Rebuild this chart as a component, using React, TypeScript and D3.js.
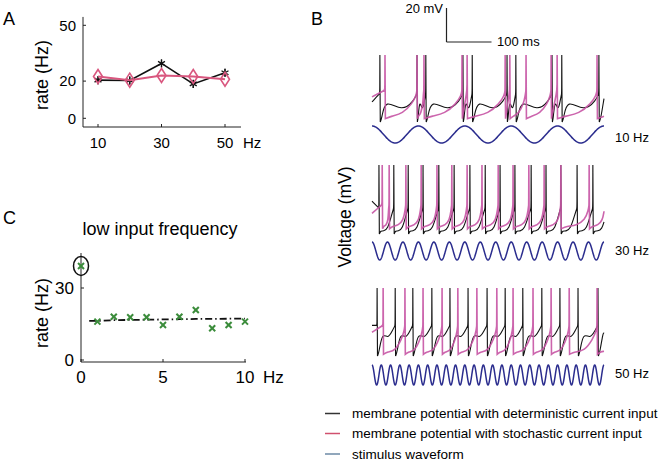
import React from 'react';
import * as d3 from 'd3';

const FONT = "'Liberation Sans', Arial, Helvetica, sans-serif";

// ---------- Panel A data ----------
const aFreq = [10, 20, 30, 40, 50];
const aDeterministic = [20.5, 20.3, 29.5, 18.5, 24.5];
const aStochastic = [22.5, 20.5, 23, 22.5, 21];
const aYTicks = [0, 20, 50];
const aXTicks = [10, 30, 50];

// ---------- Panel C data ----------
const cFreq = [0, 1, 2, 3, 4, 5, 6, 7, 8, 9, 10];
const cStochastic = [39.2, 16, 18, 17.8, 17.8, 14.6, 18, 20.8, 13.2, 14.6, 16];
const cDetFreq = [0.5, 1, 2, 3, 4, 5, 6, 7, 8, 9, 10];
const cDeterministic = [16.3, 16.3, 16.6, 16.7, 16.8, 16.9, 17, 17.1, 17.1, 17.2, 17.2];
const cYTicks = [0, 30];
const cXTicks = [0, 5, 10];

// ---------- Panel B data (spike times in ms, 500 ms window) ----------
const bStimFreqs = [10, 30, 50];
const bDetSpikes10 = [17, 97, 116, 196, 216, 291, 310, 388, 409, 489];
const bStoSpikes10 = [28, 97, 112, 194, 205, 287, 297, 332, 386, 399, 485];
const bDetSpikes30 = [15, 47, 78, 110, 144, 177, 211, 244, 276, 308, 343, 375, 407, 442, 476];
const bStoSpikes30 = [22, 37, 73, 106, 140, 172, 205, 237, 272, 304, 338, 371, 407, 468];
const bDetSpikes50 = [11, 50, 88, 129, 168, 207, 248, 287, 325, 366, 405, 444, 487];
const bStoSpikes50 = [24, 71, 110, 151, 185, 226, 269, 304, 347, 386, 425, 485];
const bLegend = [
  'membrane potential with deterministic current input',
  'membrane potential with stochastic current input',
  'stimulus waveform',
];

type P = { v0: number; reset: number; bump: number; dip: number; pre: number; thr: number; typ: number };
const PEAK = -35;

const panels = [
  {
    freq: bStimFreqs[0], top: 55, bottom: 122, sineC: 134.5, sineA: 8.5, labelY: 137,
    det: bDetSpikes10, sto: bStoSpikes10,
    dp: { v0: -63, reset: -75, bump: -61, dip: -69, pre: -62, thr: -58, typ: 80 },
    sp: { v0: -60, reset: -73, bump: -70, dip: -64, pre: -59, thr: -56, typ: 80 },
  },
  {
    freq: bStimFreqs[1], top: 165, bottom: 234, sineC: 251, sineA: 9, labelY: 250,
    det: bDetSpikes30, sto: bStoSpikes30,
    dp: { v0: -56, reset: -75, bump: -73.5, dip: -72, pre: -64, thr: -60, typ: 33 },
    sp: { v0: -63, reset: -72, bump: -70, dip: -67, pre: -61, thr: -58, typ: 34 },
  },
  {
    freq: bStimFreqs[2], top: 288, bottom: 356, sineC: 375, sineA: 10, labelY: 373,
    det: bDetSpikes50, sto: bStoSpikes50,
    dp: { v0: -57, reset: -75, bump: -61, dip: -65, pre: -60, thr: -57, typ: 39 },
    sp: { v0: -61, reset: -74, bump: -72, dip: -65, pre: -60, thr: -57, typ: 40 },
  },
];

function rep(pts: [number, number][], p: [number, number], n: number) {
  for (let i = 0; i < n; i++) pts.push([p[0], p[1]]);
}

function buildTrace(spikes: number[], p: P, kind: 'det' | 'sto'): [number, number][] {
  const pts: [number, number][] = [];
  rep(pts, [0, p.v0], 3);
  const all = [...spikes, spikes[spikes.length - 1] + p.typ];
  let prev: number | null = null;
  for (let i = 0; i < all.length; i++) {
    const n = all[i];
    if (prev !== null) {
      const D = n - prev;
      rep(pts, [prev + 0.8, p.reset], 3);
      if (D > 14) {
        if (kind === 'det') {
          pts.push([prev + Math.min(4, 0.12 * D), p.reset + 2]);
          pts.push([prev + Math.min(11, 0.3 * D), p.bump]);
          pts.push([prev + 0.6 * D, p.dip]);
          pts.push([n - Math.min(6, 0.15 * D), p.pre]);
        } else {
          pts.push([prev + 0.2 * D, p.reset + 1.5]);
          pts.push([prev + 0.55 * D, p.bump]);
          pts.push([prev + 0.85 * D, p.dip]);
          pts.push([n - 1.5, p.pre]);
        }
      }
    }
    rep(pts, [n - 0.3, p.thr], 2);
    rep(pts, [n, PEAK], 3);
    prev = n;
  }
  const out: [number, number][] = [];
  for (let i = 0; i < pts.length; i++) {
    const [t, v] = pts[i];
    if (t <= 500) out.push([t, v]);
    else {
      const [t0, v0] = pts[i - 1];
      const e: [number, number] = [500, v0 + ((v - v0) * (500 - t0)) / (t - t0)];
      rep(out, e, 3);
      break;
    }
  }
  return out;
}

export default function App() {
  // Panel A scales
  const xA = d3.scaleLinear().domain([10, 50]).range([98, 225]);
  const yA = d3.scaleLinear().domain([0, 50]).range([118.3, 25.3]);
  const lineA = d3.line<[number, number]>().x((d) => xA(d[0])).y((d) => yA(d[1]));
  const detA = aFreq.map((f, i) => [f, aDeterministic[i]] as [number, number]);
  const stoA = aFreq.map((f, i) => [f, aStochastic[i]] as [number, number]);
  const asterisk = d3.symbol(d3.symbolAsterisk, 45)();

  // Panel C scales
  const xC = d3.scaleLinear().domain([0, 10]).range([81, 245]);
  const yC = d3.scaleLinear().domain([0, 30]).range([360, 288]);
  const lineC = d3.line<[number, number]>().x((d) => xC(d[0])).y((d) => yC(d[1]));
  const detC = cDetFreq.map((f, i) => [f, cDeterministic[i]] as [number, number]);

  // Panel B scales
  const xB = d3.scaleLinear().domain([0, 500]).range([372, 604]);

  const green = '#3b8c3b';
  const pinkA = '#d9577f';
  const magenta = '#c654a4';
  const navy = '#2b2d8e';

  return (
    <svg width={661} height={462} style={{ position: 'absolute', left: 0, top: 0, background: '#fff' }} fontFamily={FONT}>
      <rect x={0} y={0} width={661} height={462} fill="#fff" />
      {/* ===== Panel A ===== */}
      <text x={3} y={25} fontSize={18}>A</text>
      <line x1={83} y1={yA(54.5)} x2={83} y2={127} stroke="#222" strokeWidth={1} />
      <line x1={83} y1={127} x2={241} y2={127} stroke="#222" strokeWidth={1} />
      {aYTicks.map((t) => (
        <g key={'ay' + t}>
          <line x1={83} x2={86} y1={yA(t)} y2={yA(t)} stroke="#222" />
          <text x={76} y={yA(t)} dy="0.35em" textAnchor="end" fontSize={15}>{t}</text>
        </g>
      ))}
      {aXTicks.map((t) => (
        <g key={'ax' + t}>
          <line x1={xA(t)} x2={xA(t)} y1={127} y2={124} stroke="#222" />
          <text x={xA(t)} y={148} textAnchor="middle" fontSize={15}>{t}</text>
        </g>
      ))}
      <text x={243} y={148} fontSize={15}>Hz</text>
      <text transform={`translate(48,${75}) rotate(-90)`} textAnchor="middle" fontSize={18}>rate (Hz)</text>
      <path d={lineA(detA) || ''} fill="none" stroke="#111" strokeWidth={1.6} />
      {detA.map((d, i) => (
        <g key={'ad' + i} transform={`translate(${xA(d[0])},${yA(d[1])})`}>
          <line x1={0} x2={0} y1={-4} y2={4} stroke="#111" strokeWidth={1.2} />
          <path d={asterisk || ''} fill="none" stroke="#111" strokeWidth={1.3} />
        </g>
      ))}
      <path d={lineA(stoA) || ''} fill="none" stroke={pinkA} strokeWidth={2} />
      {stoA.map((d, i) => {
        const x = xA(d[0]);
        const y = yA(d[1]);
        return (
          <path key={'as' + i} d={`M${x},${y - 7}L${x + 4.5},${y}L${x},${y + 7}L${x - 4.5},${y}Z`} fill="none" stroke={pinkA} strokeWidth={1.6} />
        );
      })}

      {/* ===== Panel C ===== */}
      <text x={3} y={224} fontSize={18}>C</text>
      <text x={160} y={235} textAnchor="middle" fontSize={18}>low input frequency</text>
      <line x1={81} y1={253} x2={81} y2={362} stroke="#222" />
      <line x1={81} y1={362} x2={246} y2={362} stroke="#222" />
      {cYTicks.map((t) => (
        <g key={'cy' + t}>
          <line x1={81} x2={84} y1={yC(t)} y2={yC(t)} stroke="#222" />
          <text x={74} y={yC(t)} dy="0.35em" textAnchor="end" fontSize={17}>{t}</text>
        </g>
      ))}
      {cXTicks.map((t) => (
        <g key={'cx' + t}>
          <line x1={xC(t)} x2={xC(t)} y1={362} y2={359} stroke="#222" />
          <text x={xC(t)} y={383} textAnchor="middle" fontSize={17}>{t}</text>
        </g>
      ))}
      <text x={263} y={383} fontSize={17}>Hz</text>
      <text transform={`translate(48,${313}) rotate(-90)`} textAnchor="middle" fontSize={18}>rate (Hz)</text>
      <path d={lineC(detC) || ''} fill="none" stroke="#111" strokeWidth={1.8} strokeDasharray="7,3,1.5,3" />
      {cFreq.map((f, i) => {
        const x = xC(f);
        const y = yC(cStochastic[i]);
        return (
          <g key={'cs' + i} stroke={green} strokeWidth={2}>
            <line x1={x - 3} y1={y - 3} x2={x + 3} y2={y + 3} />
            <line x1={x - 3} y1={y + 3} x2={x + 3} y2={y - 3} />
          </g>
        );
      })}
      <ellipse cx={xC(cFreq[0])} cy={yC(cStochastic[0])} rx={7.5} ry={9.5} fill="none" stroke="#111" strokeWidth={1.5} />

      {/* ===== Panel B ===== */}
      <text x={311} y={25} fontSize={18}>B</text>
      <line x1={446.5} y1={8} x2={446.5} y2={42} stroke="#222" strokeWidth={1.2} />
      <line x1={446.5} y1={42} x2={491.5} y2={42} stroke="#222" strokeWidth={1.2} />
      <text x={443} y={13} textAnchor="end" fontSize={13}>20 mV</text>
      <text x={497} y={46} fontSize={13}>100 ms</text>
      <text transform={`translate(351,217) rotate(-90)`} textAnchor="middle" fontSize={17.5}>Voltage (mV)</text>
      {panels.map((pn, k) => {
        const yV = d3.scaleLinear().domain([-75, -35]).range([pn.bottom, pn.top]);
        const tl = d3.line<[number, number]>().x((d) => xB(d[0])).y((d) => yV(d[1])).curve(d3.curveBasis);
        const det = buildTrace(pn.det, pn.dp, 'det');
        const sto = buildTrace(pn.sto, pn.sp, 'sto');
        const sine = d3.range(0, 500.01, 0.5).map((t) => [t, Math.cos((2 * Math.PI * pn.freq * t) / 1000)] as [number, number]);
        const sl = d3.line<[number, number]>().x((d) => xB(d[0])).y((d) => pn.sineC - pn.sineA * d[1]);
        return (
          <g key={'bp' + k}>
            <path d={tl(det) || ''} fill="none" stroke="#111" strokeWidth={1.1} />
            <path d={tl(sto) || ''} fill="none" stroke={magenta} strokeWidth={1.6} strokeOpacity={0.9} />
            <path d={sl(sine) || ''} fill="none" stroke={navy} strokeWidth={1.5} />
            <text x={615} y={pn.labelY} dy="0.35em" fontSize={13}>{pn.freq} Hz</text>
          </g>
        );
      })}
      {bLegend.map((s, i) => {
        const y = [413.5, 433.5, 454][i];
        const col = ['#333', '#d0506e', '#6d8aa6'][i];
        return (
          <g key={'lg' + i}>
            <line x1={325} x2={340} y1={y} y2={y} stroke={col} strokeWidth={1.5} />
            <text x={352} y={y} dy="0.35em" fontSize={13.5}>{s}</text>
          </g>
        );
      })}
    </svg>
  );
}
